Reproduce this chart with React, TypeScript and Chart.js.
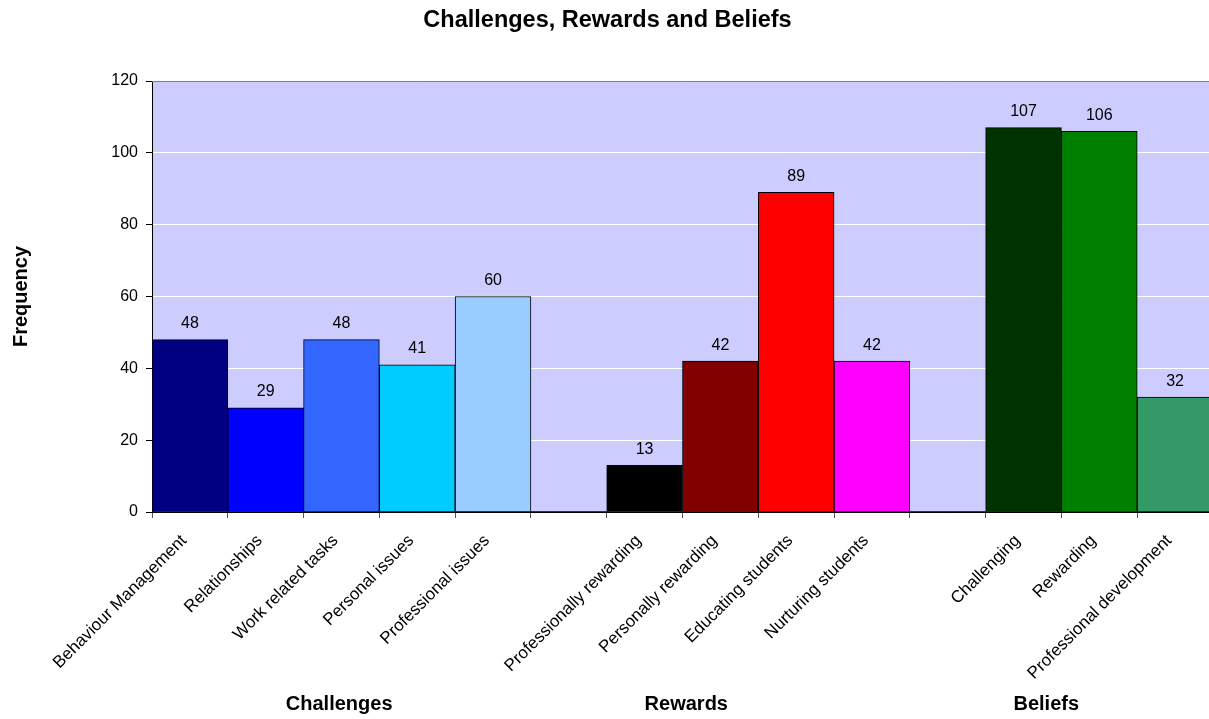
import React, { useEffect, useRef } from "react";
import { Chart, registerables } from "chart.js";

Chart.register(...registerables);

const chartTitle = "Challenges, Rewards and Beliefs";
const yAxisTitle = "Frequency";
const categories = [
  "Behaviour Management",
  "Relationships",
  "Work related tasks",
  "Personal issues",
  "Professional issues",
  "",
  "Professionally rewarding",
  "Personally rewarding",
  "Educating students",
  "Nurturing students",
  "",
  "Challenging",
  "Rewarding",
  "Professional development",
];
const frequencies: (number | null)[] = [48, 29, 48, 41, 60, null, 13, 42, 89, 42, null, 107, 106, 32];
const barColors = [
  "#000080",
  "#0000FF",
  "#3366FF",
  "#00CCFF",
  "#99CCFF",
  "#CCCCFF",
  "#000000",
  "#800000",
  "#FF0000",
  "#FF00FF",
  "#CCCCFF",
  "#003300",
  "#008000",
  "#339966",
];
const groupNames = ["Challenges", "Rewards", "Beliefs"];
const yMin = 0;
const yMax = 120;
const yStep = 20;

// layout constants (positions in category units for group labels)
const groupCenters = [2.47, 7.05, 11.8];
const FONT = "Arial, 'Liberation Sans', sans-serif";

const decorPlugin = {
  id: "decor",
  beforeDraw(chart: any) {
    const { ctx, chartArea } = chart;
    ctx.save();
    ctx.fillStyle = "#CCCCFF";
    ctx.fillRect(chartArea.left, chartArea.top, chartArea.right - chartArea.left, chartArea.bottom - chartArea.top);
    ctx.restore();
  },
  afterDraw(chart: any) {
    const { ctx, chartArea } = chart;
    const xScale = chart.scales.x;
    ctx.save();
    // top border
    ctx.strokeStyle = "#808080";
    ctx.lineWidth = 1;
    ctx.beginPath();
    ctx.moveTo(chartArea.left, chartArea.top + 0.5);
    ctx.lineTo(chartArea.right, chartArea.top + 0.5);
    ctx.stroke();
    // x axis line
    ctx.strokeStyle = "#000";
    ctx.lineWidth = 1.5;
    ctx.beginPath();
    ctx.moveTo(chartArea.left, chartArea.bottom);
    ctx.lineTo(chartArea.right, chartArea.bottom);
    ctx.stroke();

    // value labels
    const meta = chart.getDatasetMeta(0);
    ctx.fillStyle = "#000";
    ctx.font = `16px ${FONT}`;
    ctx.textAlign = "center";
    ctx.textBaseline = "alphabetic";
    meta.data.forEach((bar: any, i: number) => {
      const v = frequencies[i];
      if (v === null || v === undefined) return;
      ctx.fillText(String(v), bar.x, bar.y - 11.5);
    });

    // title
    ctx.font = `bold 23.5px ${FONT}`;
    ctx.fillText(chartTitle, 607.5, 27);

    // group labels
    const slot = (chartArea.right - chartArea.left) / categories.length;
    ctx.font = `bold 20px ${FONT}`;
    groupNames.forEach((g, i) => {
      ctx.fillText(g, chartArea.left + groupCenters[i] * slot, 710);
    });

    // rotated category labels
    ctx.font = `17px ${FONT}`;
    ctx.textAlign = "right";
    ctx.textBaseline = "top";
    categories.forEach((c, i) => {
      if (!c) return;
      const x = xScale.getPixelForValue(i);
      ctx.save();
      ctx.translate(x - 12, chartArea.bottom + 20);
      ctx.rotate(-Math.PI / 4);
      ctx.fillText(c, 0, 0);
      ctx.restore();
    });

    // y axis title
    ctx.textAlign = "center";
    ctx.textBaseline = "alphabetic";
    ctx.font = `bold 20px ${FONT}`;
    ctx.translate(27, (chartArea.top + chartArea.bottom) / 2);
    ctx.rotate(-Math.PI / 2);
    ctx.fillText(yAxisTitle, 0, 0);
    ctx.restore();
  },
};

export default function App() {
  const ref = useRef<HTMLCanvasElement | null>(null);
  useEffect(() => {
    if (!ref.current) return;
    const chart = new Chart(ref.current, {
      type: "bar",
      data: {
        labels: categories,
        datasets: [
          {
            data: frequencies as any,
            backgroundColor: barColors,
            borderColor: "#000",
            borderWidth: 1,
            barPercentage: 1,
            categoryPercentage: 1,
          },
        ],
      },
      options: {
        animation: false,
        responsive: false,
        devicePixelRatio: 1,
        layout: { padding: { top: 81, left: 0, right: 2, bottom: 0 } },
        plugins: { legend: { display: false }, tooltip: { enabled: false }, title: { display: false } },
        scales: {
          x: {
            grid: { offset: true, drawOnChartArea: false, drawTicks: true, tickLength: 6, tickColor: "#555" },
            border: { color: "#000", width: 1 },
            ticks: { display: false, autoSkip: false },
            afterFit: (s: any) => {
              s.height = 207;
            },
          },
          y: {
            min: yMin,
            max: yMax,
            ticks: { stepSize: yStep, color: "#000", padding: 8, font: { family: FONT, size: 16 } },
            grid: {
              color: (c: any) => (c.tick && (c.tick.value === yMin || c.tick.value === yMax) ? "rgba(0,0,0,0)" : "#FFFFFF"),
              tickColor: "#000",
              tickLength: 6,
            },
            border: { color: "#000", width: 1 },
            afterFit: (s: any) => {
              s.width = 152;
            },
          },
        },
      },
      plugins: [decorPlugin],
    });
    return () => chart.destroy();
  }, []);
  return (
    <div style={{ position: "absolute", left: 0, top: 0, width: 1209, height: 719, overflow: "hidden", background: "#fff" }}>
      <canvas ref={ref} width={1215} height={719} style={{ width: 1215, height: 719, display: "block" }} />
    </div>
  );
}
